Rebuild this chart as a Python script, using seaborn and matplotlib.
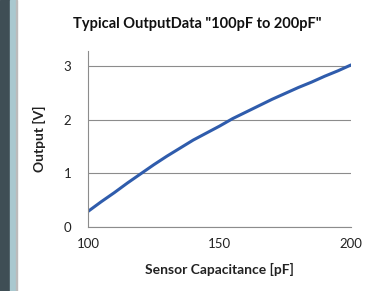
import matplotlib
matplotlib.use("Agg")
import matplotlib.pyplot as plt
import seaborn as sns
import pandas as pd
from matplotlib.patches import Rectangle

capacitance = [100, 105, 110, 115, 120, 125, 130, 135, 140, 145, 150, 155, 160, 165, 170, 175, 180, 185, 190, 195, 200]
output_v = [0.29, 0.47, 0.64, 0.82, 0.99, 1.16, 1.32, 1.47, 1.62, 1.75, 1.88, 2.02, 2.14, 2.26, 2.38, 2.49, 2.6, 2.7, 2.81, 2.91, 3.02]
x_ticks = [100, 150, 200]
y_ticks = [0, 1, 2, 3]

df = pd.DataFrame({"cap": capacitance, "out": output_v})

sns.set_theme(style="white")
plt.rcParams['font.family'] = ['Lato', 'DejaVu Sans']

fig = plt.figure(figsize=(3.67, 2.91), dpi=100)
fig.patch.set_facecolor("white")
# left frame strip
fig.patches.append(Rectangle((0, 0), 10/367, 1, transform=fig.transFigure, color="#3f4e55", zorder=-1))
fig.patches.append(Rectangle((10/367, 0), 6/367, 1, transform=fig.transFigure, color="#a9c8cf", zorder=-1))
fig.patches.append(Rectangle((16/367, 0), 1/367, 1, transform=fig.transFigure, color="#bbbbbb", zorder=-1))

ax = fig.add_axes([88/367, 1 - 227/291, (351 - 88)/367, (227 - 51)/291])
sns.lineplot(data=df, x="cap", y="out", ax=ax, color="#2f5cac", linewidth=2.2)

ax.set_xlim(100, 200)
ax.set_ylim(0, 3.28)
ax.set_xticks(x_ticks)
ax.set_yticks(y_ticks)
ax.yaxis.grid(True, color="#8c8c8c", linewidth=0.8)
ax.xaxis.grid(False)
for s in ["top", "right"]:
    ax.spines[s].set_visible(False)
for s in ["left", "bottom"]:
    ax.spines[s].set_color("#8c8c8c")
    ax.spines[s].set_linewidth(0.8)
ax.tick_params(axis="both", length=0, labelsize=9.5, colors="#222222")
ax.tick_params(axis="x", pad=8)
ax.tick_params(axis="y", pad=12)

ax.set_xlabel("Sensor Capacitance [pF]", fontsize=10, fontweight="bold", color="#222222", labelpad=9)
ax.set_ylabel("Output [V]", fontsize=10, fontweight="bold", color="#222222", labelpad=13)
fig.text(197/367, 1 - 24/291, 'Typical OutputData "100pF to 200pF"', ha="center", va="center",
         fontsize=10.5, fontweight="bold", color="#111111")

fig.savefig("out.png", dpi=100)
